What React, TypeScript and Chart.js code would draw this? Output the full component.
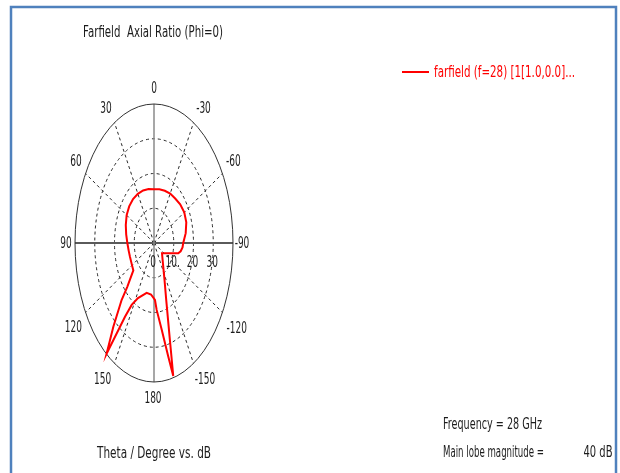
import React, { useEffect, useRef } from 'react';
import { Chart, registerables } from 'chart.js';

Chart.register(...registerables);

// ---- Data (theta in degrees, counter-clockwise from top; axial ratio in dB) ----
const thetaDeg = [
  0, 10, 20, 30, 40, 50, 60, 70, 80, 90, 100, 108, 118, 127, 133, 135, 139.5, 143, 145.3, 147.6,
  152.9, 165.5, 174.2, 181.7, 184, 188.9, 192.5, 194.3, 196.1, 200.7, 206.6, 216.1, 234, 250,
  256.5, 260, 265, 270, 280, 290, 300, 310, 320, 330, 340, 350, 360,
];
const axialRatioDb = [
  15.5, 15.8, 16.1, 16.35, 16.5, 16.4, 16.0, 15.2, 14.3, 13.5, 13.0, 12.8, 12.8, 13.1, 18.5, 23.2, 31.7, 39.9, 25.8, 21.1,
  17.8, 14.8, 14.9, 16.4, 19.3, 25.3, 33.5, 39.5, 29.0, 17.5, 11.9, 7.8, 5.0, 8.6,
  12.65, 13.7, 14.5, 14.8, 16.3, 17.4, 17.7, 17.3, 16.7, 16.4, 16.0, 15.7, 15.5,
];

const ringValues = [10, 20, 30];
const rMax = 40;
const spokeAngles = [30, 60, 120, 150, 210, 240, 300, 330];
const angleTickAngles = [0, 30, 60, 90, 120, 150, 180, 210, 240, 270, 300, 330];
const angleTickLabels = ['0', '30', '60', '90', '120', '150', '180', '-150', '-120', '-90', '-60', '-30'];
const radialTickValues = [0, 10, 20, 30];
const radialTickLabels = ['0', '10.', '20', '30'];

const titleText = 'Farfield  Axial Ratio (Phi=0)';
const legendText = 'farfield (f=28) [1[1.0,0.0]...';
const xAxisText = 'Theta / Degree vs. dB';
const frequencyText = 'Frequency = 28 GHz';
const mainLobeLabel = 'Main lobe magnitude =';
const mainLobeValue = '40 dB';

// ---- Styles ----
const FONT = '15px "DejaVu Sans", Verdana, sans-serif';
const TEXT_COLOR = '#1c1c1c';
const RED = '#ff0000';
// pixel offsets of the angle labels from the outer ring point (style only)
const angleLabelOffsets: [number, number][] = [
  [0, -15], [-8.5, -13.3], [-9.6, -11.8], [-9, 1], [-12.3, 15.8], [-11.8, 16.6],
  [-1, 17], [11.5, 16.6], [14.3, 16.8], [9, 1.5], [11, -11.8], [10, -13.3],
];

function drawText(
  ctx: CanvasRenderingContext2D,
  text: string,
  x: number,
  y: number,
  opts: { align?: CanvasTextAlign; color?: string; width?: number; sx?: number } = {}
) {
  ctx.save();
  ctx.font = FONT;
  ctx.fillStyle = opts.color || TEXT_COLOR;
  ctx.textBaseline = 'middle';
  ctx.textAlign = opts.align || 'center';
  const w = ctx.measureText(text).width;
  const sx = opts.width ? opts.width / w : opts.sx ?? 0.6;
  ctx.translate(x, y);
  ctx.scale(sx, 1);
  ctx.fillText(text, 0, 0);
  ctx.restore();
}

const polarPlugin = {
  id: 'polarDecor',
  beforeDraw(chart: any) {
    const ctx: CanvasRenderingContext2D = chart.ctx;
    ctx.save();
    ctx.fillStyle = '#ffffff';
    ctx.fillRect(0, 0, chart.width, chart.height);
    ctx.strokeStyle = '#4f81bd';
    ctx.lineWidth = 2.5;
    ctx.strokeRect(11, 7, 605, chart.height + 20);
    ctx.restore();
  },
  beforeDatasetsDraw(chart: any) {
    const ctx: CanvasRenderingContext2D = chart.ctx;
    const xs = chart.scales.x;
    const ys = chart.scales.y;
    const cx = xs.getPixelForValue(0);
    const cy = ys.getPixelForValue(0);
    const pt = (r: number, deg: number) => {
      const a = (deg * Math.PI) / 180;
      return { x: xs.getPixelForValue(-r * Math.sin(a)), y: ys.getPixelForValue(r * Math.cos(a)) };
    };
    ctx.save();
    // dashed rings
    ctx.setLineDash([3, 3]);
    ctx.strokeStyle = '#2a2a2a';
    ctx.lineWidth = 1;
    ringValues.forEach((r) => {
      const rx = xs.getPixelForValue(r) - cx;
      const ry = cy - ys.getPixelForValue(r);
      ctx.beginPath();
      ctx.ellipse(cx, cy, rx, ry, 0, 0, Math.PI * 2);
      ctx.stroke();
    });
    // dashed spokes
    spokeAngles.forEach((a) => {
      const p = pt(rMax, a);
      ctx.beginPath();
      ctx.moveTo(cx, cy);
      ctx.lineTo(p.x, p.y);
      ctx.stroke();
    });
    ctx.setLineDash([]);
    // main axes
    ctx.strokeStyle = '#5a5a5a';
    ctx.lineWidth = 2;
    let p1 = pt(rMax, 90), p2 = pt(rMax, 270);
    ctx.beginPath();
    ctx.moveTo(p1.x, p1.y);
    ctx.lineTo(p2.x, p2.y);
    ctx.stroke();
    ctx.strokeStyle = '#8a8a8a';
    ctx.lineWidth = 1.5;
    p1 = pt(rMax, 0);
    p2 = pt(rMax, 180);
    ctx.beginPath();
    ctx.moveTo(p1.x, p1.y);
    ctx.lineTo(p2.x, p2.y);
    ctx.stroke();
    // outer ring
    ctx.strokeStyle = '#333333';
    ctx.lineWidth = 1;
    ctx.beginPath();
    ctx.ellipse(cx, cy, xs.getPixelForValue(rMax) - cx, cy - ys.getPixelForValue(rMax), 0, 0, Math.PI * 2);
    ctx.stroke();
    ctx.restore();
  },
  afterDatasetsDraw(chart: any) {
    const ctx: CanvasRenderingContext2D = chart.ctx;
    const xs = chart.scales.x;
    const ys = chart.scales.y;
    const cx = xs.getPixelForValue(0);
    const cy = ys.getPixelForValue(0);
    const pt = (r: number, deg: number) => {
      const a = (deg * Math.PI) / 180;
      return { x: xs.getPixelForValue(-r * Math.sin(a)), y: ys.getPixelForValue(r * Math.cos(a)) };
    };
    // angle labels
    angleTickAngles.forEach((a, i) => {
      const p = pt(rMax, a);
      const o = angleLabelOffsets[i];
      drawText(ctx, angleTickLabels[i], p.x + o[0], p.y + o[1]);
    });
    // radial labels
    radialTickValues.forEach((v, i) => {
      drawText(ctx, radialTickLabels[i], xs.getPixelForValue(v) - 1, cy + 20);
    });
    // title & axis text
    drawText(ctx, titleText, cx - 1, 33, { width: 140 });
    drawText(ctx, xAxisText, cx, 454, { width: 114 });
    // legend
    ctx.save();
    ctx.strokeStyle = RED;
    ctx.lineWidth = 2;
    ctx.beginPath();
    ctx.moveTo(402, 72);
    ctx.lineTo(429, 72);
    ctx.stroke();
    ctx.restore();
    drawText(ctx, legendText, 434, 73, { align: 'left', width: 141, color: RED });
    // info text
    drawText(ctx, frequencyText, 443, 425, { align: 'left', width: 99 });
    drawText(ctx, mainLobeLabel, 443, 453, { align: 'left', width: 101 });
    drawText(ctx, mainLobeValue, 612.5, 453, { align: 'right', width: 29 });
  },
};

export default function App() {
  const canvasRef = useRef<HTMLCanvasElement | null>(null);

  useEffect(() => {
    const canvas = canvasRef.current;
    if (!canvas) return;
    const points = thetaDeg.map((t, i) => {
      const a = (t * Math.PI) / 180;
      const r = axialRatioDb[i];
      return { x: -r * Math.sin(a), y: r * Math.cos(a) };
    });
    const chart = new Chart(canvas, {
      type: 'scatter',
      data: {
        datasets: [
          {
            label: legendText,
            data: points,
            showLine: true,
            borderColor: RED,
            backgroundColor: RED,
            borderWidth: 2,
            pointRadius: 0,
            tension: 0,
            fill: false,
            clip: false as any,
          },
        ],
      },
      options: {
        responsive: false,
        animation: false,
        devicePixelRatio: 1,
        layout: { padding: { left: 75, top: 104, right: 387, bottom: 91 } },
        scales: {
          x: { type: 'linear', min: -rMax, max: rMax, display: false },
          y: { type: 'linear', min: -rMax, max: rMax, display: false },
        },
        plugins: {
          legend: { display: false },
          tooltip: { enabled: false },
          title: { display: false },
        },
      },
      plugins: [polarPlugin],
    });
    return () => chart.destroy();
  }, []);

  return (
    <div style={{ position: 'fixed', left: 0, top: 0, width: 620, height: 473, background: '#fff' }}>
      <canvas ref={canvasRef} width={620} height={473} style={{ display: 'block' }} />
    </div>
  );
}
